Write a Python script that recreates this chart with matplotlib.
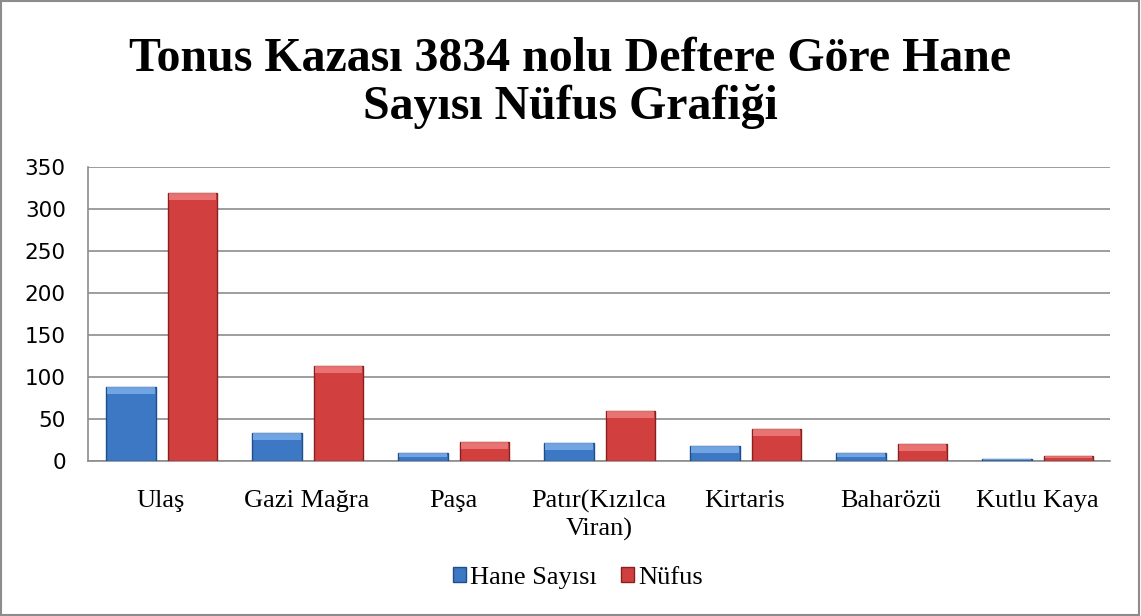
import matplotlib.pyplot as plt
import numpy as np
from matplotlib.patches import Rectangle

categories = ['Ulaş', 'Gazi Mağra', 'Paşa', 'Patır(Kızılca\nViran)', 'Kirtaris', 'Baharözü', 'Kutlu Kaya']
hane = [88, 33, 9, 22, 18, 9, 2]
nufus = [319, 113, 23, 60, 38, 20, 6]
yticks = [0, 50, 100, 150, 200, 250, 300, 350]

fig = plt.figure(figsize=(11.41, 6.16), dpi=100)
ax = fig.add_axes([88 / 1141, 1 - 461 / 616, (1110 - 88) / 1141, (461 - 167) / 616])

x = np.arange(len(categories))
w = 0.34
b1 = ax.bar(x - 0.205, hane, w, color='#3c78c3', edgecolor='#1f4f8a', linewidth=1.0, zorder=3,
            label='Hane Sayısı')
b2 = ax.bar(x + 0.215, nufus, w, color='#d13f3f', edgecolor='#8a1f1f', linewidth=1.0, zorder=3,
            label='Nüfus')

# light highlight on top of each bar (bevel look)
for bars, hl in ((b1, '#7fb0ea'), (b2, '#f08080')):
    for r in bars:
        h = r.get_height()
        t = min(7 / 0.84, h * 0.5)
        ax.bar(r.get_x() + r.get_width() / 2, t, r.get_width() * 0.96, bottom=h - t,
               color=hl, linewidth=0, zorder=4, alpha=0.8)

ax.set_xlim(-0.5, len(categories) - 0.5)
ax.set_ylim(0, 350)
ax.set_yticks(yticks)
ax.yaxis.grid(True, color='#8c8c8c', linewidth=1.2, zorder=0)
ax.set_axisbelow(True)
ax.tick_params(axis='y', length=0, labelsize=15.5, pad=16)
ax.tick_params(axis='x', length=0, pad=21)
ax.set_xticks(x)
ax.set_xticklabels(categories, fontfamily='Liberation Serif', fontsize=19, linespacing=1.25)
for s in ['top', 'right']:
    ax.spines[s].set_visible(False)
ax.spines['left'].set_color('#8c8c8c')
ax.spines['bottom'].set_color('#8c8c8c')
ax.spines['left'].set_linewidth(1.2)
ax.spines['bottom'].set_linewidth(1.2)

fig.text(0.5, 1 - 83 / 616, 'Tonus Kazası 3834 nolu Deftere Göre Hane\nSayısı Nüfus Grafiği',
         ha='center', va='center', fontfamily='Liberation Serif', fontweight='bold', fontsize=34.5,
         linespacing=1.1)

leg = fig.legend(handles=[b1, b2], labels=['Hane Sayısı', 'Nüfus'], loc='center',
                 bbox_to_anchor=(578 / 1141, 1 - 578 / 616), ncol=2, frameon=False,
                 prop={'family': 'Liberation Serif', 'size': 19},
                 handlelength=0.5, handleheight=0.5, handletextpad=0.15, columnspacing=0.9)

fig.patches.append(Rectangle((0.001, 0.002), 0.997, 0.996, transform=fig.transFigure,
                             fill=False, edgecolor='#8c8c8c', linewidth=1.5))

fig.savefig('out.png', dpi=100)
